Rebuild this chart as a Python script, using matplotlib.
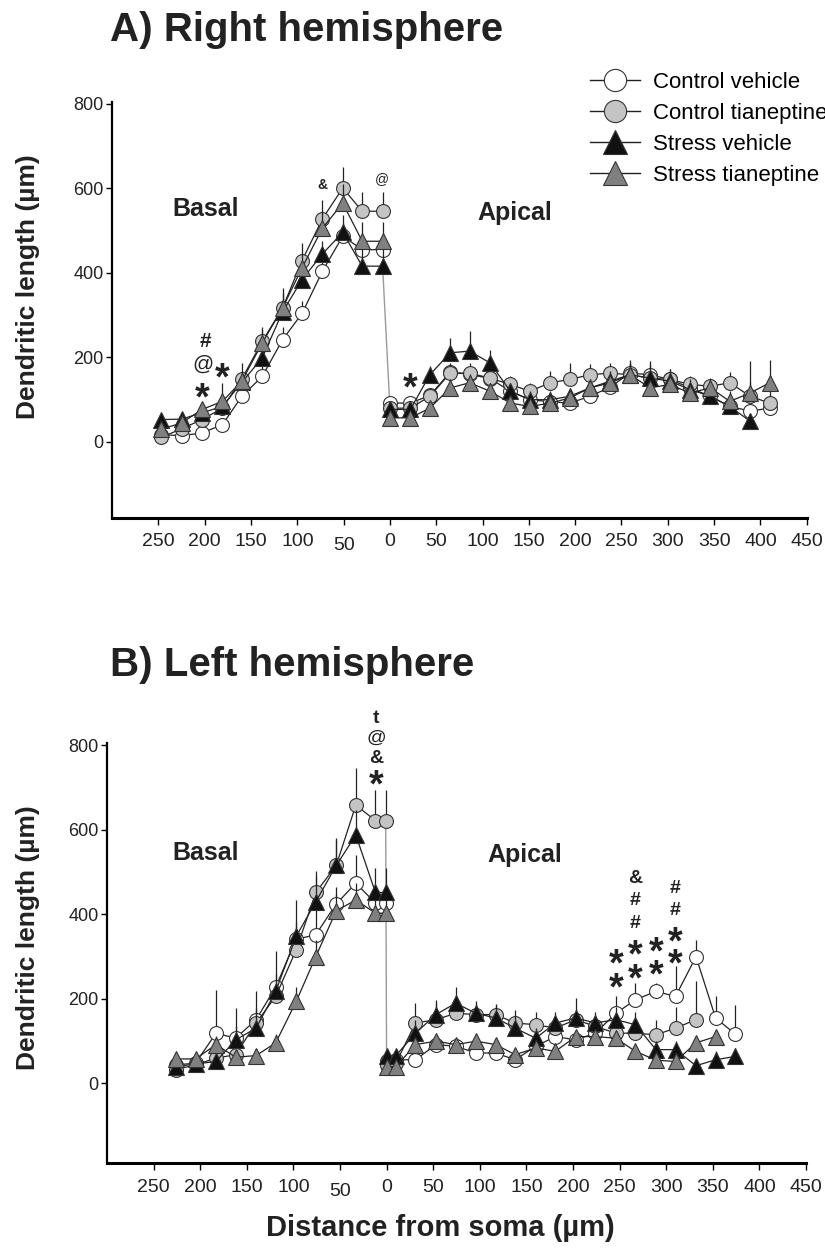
import matplotlib
matplotlib.use("Agg")
import matplotlib.pyplot as plt
from matplotlib.lines import Line2D
from matplotlib.transforms import ScaledTranslation

plt.rcParams["font.family"] = ["Liberation Sans", "DejaVu Sans"]

# ---- data: distances from soma (um); basal drawn to the left of 0 ----
A_BAS_X = [247, 225, 203, 181, 160, 138, 116, 95, 73, 51, 30, 8]
A_API_X = [0, 22, 43, 65, 86, 108, 130, 151, 173, 194, 216, 238, 259, 281, 302, 324, 346, 367, 389, 410]
B_BAS_X = [226, 205, 183, 162, 140, 119, 97, 76, 54, 33, 12, 1]
B_API_X = [0, 10, 31, 53, 74, 96, 117, 138, 160, 181, 203, 224, 246, 267, 289, 310, 332, 353, 374]

# Right hemisphere (A)
A_CV_BAS = [17, 15, 21, 41, 108, 155, 242, 304, 404, 487, 455, 455]
A_CT_BAS = [11, 31, 53, 80, 149, 238, 317, 429, 528, 601, 546, 546]
A_SV_BAS = [53, 54, 69, 84, 141, 199, 308, 384, 445, 496, 416, 416]
A_ST_BAS = [30, 45, 77, 96, 144, 234, 317, 412, 506, 565, 475, 475]
A_CV_BAS_ERR = [10, 10, 12, 15, 20, 25, 30, 30, 35, 30, 30, 30]
A_CT_BAS_ERR = [10, 12, 15, 18, 38, 35, 47, 43, 45, 50, 45, 45]
A_SV_BAS_ERR = [10, 10, 12, 15, 25, 30, 30, 30, 30, 40, 40, 40]
A_ST_BAS_ERR = [10, 12, 15, 43, 25, 30, 35, 35, 40, 45, 45, 45]

A_CV_API = [92, 92, 110, 165, 160, 150, 120, 100, 95, 92, 108, 130, 163, 159, 148, 128, 108, 84, 73, 80]
A_CT_API = [80, 80, 108, 163, 163, 151, 136, 120, 140, 148, 159, 163, 159, 151, 148, 136, 132, 140, 108, 92]
A_SV_API = [77, 77, 159, 211, 215, 187, 120, 100, 100, 108, 128, 144, 159, 151, 144, 124, 108, 84, 49]
A_ST_API = [57, 57, 80, 128, 140, 120, 92, 84, 92, 104, 128, 140, 159, 128, 136, 116, 128, 96, 116, 140]
A_CV_API_ERR = [15, 15, 15, 20, 20, 20, 20, 20, 20, 20, 20, 25, 25, 25, 25, 25, 25, 30, 30, 30]
A_CT_API_ERR = [15, 15, 20, 25, 25, 25, 20, 20, 28, 38, 25, 25, 25, 25, 25, 20, 20, 25, 35, 30]
A_SV_API_ERR = [15, 15, 20, 35, 47, 30, 20, 20, 20, 20, 20, 25, 35, 40, 25, 25, 20, 20, 20]
A_ST_API_ERR = [10, 10, 15, 20, 20, 20, 15, 15, 15, 20, 20, 20, 25, 20, 20, 20, 20, 25, 75, 55]

# Left hemisphere (B)
B_CV_BAS = [43, 47, 118, 106, 150, 227, 340, 351, 424, 473, 426, 426]
B_CT_BAS = [32, 43, 59, 67, 142, 205, 315, 451, 515, 658, 621, 619]
B_SV_BAS = [39, 45, 51, 102, 130, 217, 347, 429, 515, 587, 451, 451]
B_ST_BAS = [57, 57, 91, 61, 65, 95, 193, 299, 408, 433, 402, 402]
B_CV_BAS_ERR = [10, 15, 102, 30, 67, 30, 40, 60, 40, 67, 40, 40]
B_CT_BAS_ERR = [10, 15, 20, 30, 35, 40, 50, 50, 60, 87, 72, 75]
B_SV_BAS_ERR = [10, 15, 20, 75, 40, 95, 87, 60, 65, 60, 57, 57]
B_ST_BAS_ERR = [10, 10, 20, 15, 15, 20, 35, 40, 40, 40, 30, 30]

B_CV_API = [51, 55, 55, 91, 87, 71, 71, 55, 87, 110, 102, 118, 165, 197, 217, 205, 299, 154, 116]
B_CT_API = [43, 47, 142, 150, 165, 162, 162, 142, 138, 130, 150, 134, 118, 118, 114, 130, 150]
B_SV_API = [63, 65, 118, 162, 189, 165, 154, 130, 106, 142, 154, 142, 150, 138, 79, 79, 41, 55, 63]
B_ST_API = [39, 39, 91, 99, 91, 99, 91, 67, 83, 75, 110, 110, 106, 75, 54, 51, 95, 110]
B_CV_API_ERR = [10, 10, 10, 10, 10, 10, 10, 10, 15, 15, 15, 20, 41, 40, 20, 71, 40, 51, 69]
B_CT_API_ERR = [10, 10, 47, 40, 30, 25, 25, 30, 30, 25, 25, 20, 20, 25, 35, 50, 91]
B_SV_API_ERR = [10, 10, 30, 35, 39, 30, 30, 30, 25, 25, 47, 25, 30, 30, 20, 20, 15, 20, 20]
B_ST_API_ERR = [10, 10, 15, 15, 15, 15, 15, 15, 15, 15, 15, 15, 15, 15, 15, 15, 15, 15]

GROUPS = ["Control vehicle", "Control tianeptine", "Stress vehicle", "Stress tianeptine"]
XTICKS = [-250, -200, -150, -100, -50, 0, 50, 100, 150, 200, 250, 300, 350, 400, 450]

# significance marks: (x, y, text, size, bold)
A_MARKS = [(-199, 238, "#", 15, True), (-202, 183, "@", 15, False), (-203, 120, "*", 27, True),
           (-181, 167, "*", 27, True), (-73, 607, "&", 10, True), (-9, 623, "@", 10, False),
           (22, 144, "*", 27, True)]
B_MARKS = [(-11, 863, "t", 14, True), (-11, 816, "@", 14, False), (-11, 768, "&", 14, True),
           (-11, 721, "*", 27, True),
           (246, 299, "*", 27, True), (246, 240, "*", 27, True),
           (267, 485, "&", 14, True), (267, 433, "#", 14, True), (267, 378, "#", 14, True),
           (267, 319, "*", 27, True), (267, 263, "*", 27, True),
           (289, 327, "*", 27, True), (289, 271, "*", 27, True),
           (310, 461, "#", 14, True), (310, 409, "#", 14, True), (310, 350, "*", 27, True),
           (310, 299, "*", 27, True)]

STYLE = [dict(marker="o", mfc="white", ms=10),
         dict(marker="o", mfc="#c4c4c4", ms=10),
         dict(marker="^", mfc="#111111", ms=11),
         dict(marker="^", mfc="#808080", ms=11)]


def panel(ax, bas_x, api_x, bas, bas_err, api, api_err, link, marks, basal_pos, apical_pos, ybot):
    for i, st in enumerate(STYLE):
        for xs, ys, es, sign in [(bas_x, bas[i], bas_err[i], -1), (api_x, api[i], api_err[i], 1)]:
            xx = [sign * v for v in xs[:len(ys)]]
            top = [y + e for y, e in zip(ys, es)]
            ax.vlines(xx, ys, top, color="#222222", lw=0.9, zorder=2 + i)
            ax.plot(xx, ys, color="#222222", lw=0.9, marker=st["marker"], mfc=st["mfc"],
                    mec="#333333", mew=0.8, ms=st["ms"], zorder=2.5 + i)
    ax.plot([-bas_x[-1], api_x[0]], [bas[link][-1], api[link][0]], color="#9a9a9a", lw=1.0, zorder=1)
    for x, y, t, s, b in marks:
        # the asterisk glyph sits high in its box, so push it down a little
        dy = -6 / 72 if t == "*" else 0
        ax.text(x, y, t, ha="center", va="center", fontsize=s,
                fontweight="bold" if b else "normal", color="#222222", zorder=10,
                transform=ax.transData + ScaledTranslation(0, dy, ax.figure.dpi_scale_trans))
    ax.text(*basal_pos, "Basal", fontsize=18, fontweight="bold", ha="center", va="center", color="#222222")
    ax.text(*apical_pos, "Apical", fontsize=18, fontweight="bold", ha="center", va="center", color="#222222")

    ax.set_xlim(-300, 450)
    ax.set_ylim(ybot, 805)
    ax.set_xticks(XTICKS)
    ax.set_xticklabels([str(abs(t)) for t in XTICKS], fontsize=14, color="#222222")
    ax.set_yticks([0, 200, 400, 600, 800])
    ax.set_yticklabels(["0", "200", "400", "600", "800"], fontsize=13, color="#222222")
    for s in ("top", "right"):
        ax.spines[s].set_visible(False)
    ax.spines["bottom"].set_linewidth(2.2)
    ax.spines["left"].set_linewidth(1.6)
    ax.tick_params(axis="x", direction="out", length=5, width=1, pad=6)
    ax.tick_params(axis="y", direction="out", length=4, width=1, pad=2)
    # basal "50" label sits a little lower in the original
    lab = ax.get_xticklabels()[4]
    lab.set_transform(lab.get_transform() + ScaledTranslation(0, -3 / 72, ax.figure.dpi_scale_trans))


fig = plt.figure(figsize=(8.25, 12.58), dpi=100)
W, H = 825.0, 1258.0
ax_a = fig.add_axes([112.2 / W, 1 - 518.0 / H, 694.5 / W, 416.2 / H])
ax_b = fig.add_axes([107.0 / W, 1 - 1163.3 / H, 699.0 / W, 420.4 / H])

panel(ax_a, A_BAS_X, A_API_X,
      [A_CV_BAS, A_CT_BAS, A_SV_BAS, A_ST_BAS], [A_CV_BAS_ERR, A_CT_BAS_ERR, A_SV_BAS_ERR, A_ST_BAS_ERR],
      [A_CV_API, A_CT_API, A_SV_API, A_ST_API], [A_CV_API_ERR, A_CT_API_ERR, A_SV_API_ERR, A_ST_API_ERR],
      2, A_MARKS, (-199, 552), (135, 543), -180)
panel(ax_b, B_BAS_X, B_API_X,
      [B_CV_BAS, B_CT_BAS, B_SV_BAS, B_ST_BAS], [B_CV_BAS_ERR, B_CT_BAS_ERR, B_SV_BAS_ERR, B_ST_BAS_ERR],
      [B_CV_API, B_CT_API, B_SV_API, B_ST_API], [B_CV_API_ERR, B_CT_API_ERR, B_SV_API_ERR, B_ST_API_ERR],
      1, B_MARKS, (-194, 544), (148, 540), -190)

fig.text(110 / W, 1 - 30 / H, "A) Right hemisphere", fontsize=29, fontweight="bold", va="center", color="#222222")
fig.text(110 / W, 1 - 665 / H, "B) Left hemisphere", fontsize=29, fontweight="bold", va="center", color="#222222")
for yc in (287, 938):
    fig.text(28 / W, 1 - yc / H, "Dendritic length (µm)", rotation=90, fontsize=19,
             fontweight="bold", ha="center", va="center", color="#222222")
fig.text(440 / W, 1 - 1228 / H, "Distance from soma (µm)", fontsize=21, fontweight="bold",
         ha="center", va="center", color="#222222")

handles = [Line2D([], [], color="#222222", lw=1, marker=st["marker"], mfc=st["mfc"], mec="#333333",
                  mew=0.8, ms=st["ms"] * 1.6) for st in STYLE]
fig.legend(handles, GROUPS, loc="upper left", bbox_to_anchor=(590 / W, 1 - 72 / H), frameon=False,
           fontsize=16, handlelength=2.25, handletextpad=0.6, labelspacing=0.45, borderpad=0,
           borderaxespad=0)

fig.savefig("out.png", dpi=100)
